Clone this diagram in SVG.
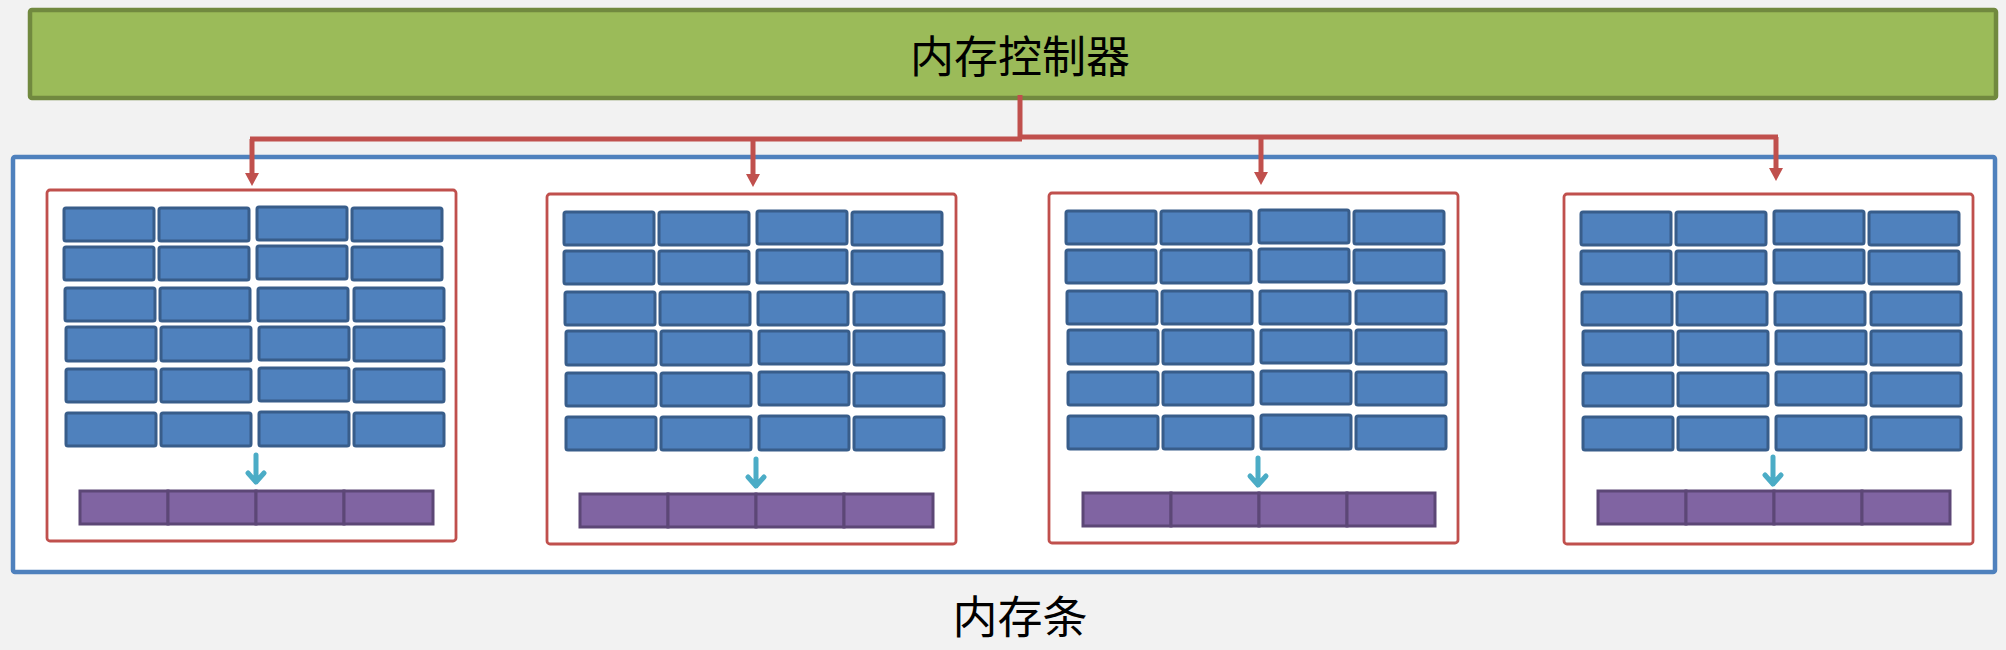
<svg xmlns="http://www.w3.org/2000/svg" width="2006" height="650" viewBox="0 0 2006 650">
<defs>
<style>
.bg{fill:#F2F2F2}
.ctrl{fill:#9BBB59;stroke:#71893F;stroke-width:4.5}
.outer{fill:#FFFFFF;stroke:#4F81BD;stroke-width:4.5}
.chip{fill:#FFFFFF;stroke:#C0504D;stroke-width:2.8}
.cell{fill:#4F81BD;stroke:#385D8A;stroke-width:3}
.bar{fill:#8064A2;stroke:#5C4776;stroke-width:3}
.wire{fill:none;stroke:#C0504D;stroke-width:5}
.cy{fill:none;stroke:#4BACC6;stroke-width:5;stroke-linecap:round;stroke-linejoin:round}
.lbl{font-family:"Noto Sans CJK SC","Noto Sans",sans-serif;fill:#000000;text-anchor:middle}
</style>
<marker id="ah" markerWidth="14" markerHeight="14" refX="0" refY="7" orient="auto" markerUnits="userSpaceOnUse">
<path d="M0,0 L13,7 L0,14 z" fill="#C0504D"/>
</marker>
</defs>
<rect class="bg" x="0" y="0" width="2006" height="650"/>

<g id="controller">
<rect class="ctrl" x="30" y="10" width="1966" height="88" rx="2"/>
<text class="lbl" x="1020" y="73" font-size="44">内存控制器</text>
</g>

<g id="memory-module">
<rect class="outer" x="13" y="157" width="1982" height="415" rx="2"/>
<text class="lbl" x="1020" y="634" font-size="45">内存条</text>
</g>

<g id="connectors">
<path class="wire" d="M1020,95 V139"/>
<path class="wire" d="M250,139 H1022"/>
<path class="wire" d="M1018,137 H1778"/>
<path class="wire" d="M252,139 V173" marker-end="url(#ah)"/>
<path class="wire" d="M753,139 V174" marker-end="url(#ah)"/>
<path class="wire" d="M1261,137 V172" marker-end="url(#ah)"/>
<path class="wire" d="M1776,137 V168" marker-end="url(#ah)"/>
</g>

<g id="chip1" transform="translate(47,190)">
<rect class="chip" x="0" y="0" width="409" height="351" rx="3"/>
<rect class="cell" x="17" y="18" width="90" height="33" rx="2"/><rect class="cell" x="112" y="18" width="90" height="33" rx="2"/><rect class="cell" x="210" y="17" width="90" height="33" rx="2"/><rect class="cell" x="305" y="18" width="90" height="33" rx="2"/>
<rect class="cell" x="17" y="57" width="90" height="33" rx="2"/><rect class="cell" x="112" y="57" width="90" height="33" rx="2"/><rect class="cell" x="210" y="56" width="90" height="33" rx="2"/><rect class="cell" x="305" y="57" width="90" height="33" rx="2"/>
<rect class="cell" x="18" y="98" width="90" height="33" rx="2"/><rect class="cell" x="113" y="98" width="90" height="33" rx="2"/><rect class="cell" x="211" y="98" width="90" height="33" rx="2"/><rect class="cell" x="307" y="98" width="90" height="33" rx="2"/>
<rect class="cell" x="19" y="137" width="90" height="34" rx="2"/><rect class="cell" x="114" y="137" width="90" height="34" rx="2"/><rect class="cell" x="212" y="137" width="90" height="33" rx="2"/><rect class="cell" x="307" y="137" width="90" height="34" rx="2"/>
<rect class="cell" x="19" y="179" width="90" height="33" rx="2"/><rect class="cell" x="114" y="179" width="90" height="33" rx="2"/><rect class="cell" x="212" y="178" width="90" height="33" rx="2"/><rect class="cell" x="307" y="179" width="90" height="33" rx="2"/>
<rect class="cell" x="19" y="223" width="90" height="33" rx="2"/><rect class="cell" x="114" y="223" width="90" height="33" rx="2"/><rect class="cell" x="212" y="222" width="90" height="34" rx="2"/><rect class="cell" x="307" y="223" width="90" height="33" rx="2"/>
<path class="cy" d="M209,265 V292 M201,283 L209,292 L217,283"/>
<rect class="bar" x="33" y="301" width="88" height="33"/><rect class="bar" x="121" y="301" width="88" height="33"/><rect class="bar" x="209" y="301" width="88" height="33"/><rect class="bar" x="297" y="301" width="89" height="33"/>
</g>

<g id="chip2" transform="translate(547,194)">
<rect class="chip" x="0" y="0" width="409" height="350" rx="3"/>
<rect class="cell" x="17" y="18" width="90" height="33" rx="2"/><rect class="cell" x="112" y="18" width="90" height="33" rx="2"/><rect class="cell" x="210" y="17" width="90" height="33" rx="2"/><rect class="cell" x="305" y="18" width="90" height="33" rx="2"/>
<rect class="cell" x="17" y="57" width="90" height="33" rx="2"/><rect class="cell" x="112" y="57" width="90" height="33" rx="2"/><rect class="cell" x="210" y="56" width="90" height="33" rx="2"/><rect class="cell" x="305" y="57" width="90" height="33" rx="2"/>
<rect class="cell" x="18" y="98" width="90" height="33" rx="2"/><rect class="cell" x="113" y="98" width="90" height="33" rx="2"/><rect class="cell" x="211" y="98" width="90" height="33" rx="2"/><rect class="cell" x="307" y="98" width="90" height="33" rx="2"/>
<rect class="cell" x="19" y="137" width="90" height="34" rx="2"/><rect class="cell" x="114" y="137" width="90" height="34" rx="2"/><rect class="cell" x="212" y="137" width="90" height="33" rx="2"/><rect class="cell" x="307" y="137" width="90" height="34" rx="2"/>
<rect class="cell" x="19" y="179" width="90" height="33" rx="2"/><rect class="cell" x="114" y="179" width="90" height="33" rx="2"/><rect class="cell" x="212" y="178" width="90" height="33" rx="2"/><rect class="cell" x="307" y="179" width="90" height="33" rx="2"/>
<rect class="cell" x="19" y="223" width="90" height="33" rx="2"/><rect class="cell" x="114" y="223" width="90" height="33" rx="2"/><rect class="cell" x="212" y="222" width="90" height="34" rx="2"/><rect class="cell" x="307" y="223" width="90" height="33" rx="2"/>
<path class="cy" d="M209,265 V292 M201,283 L209,292 L217,283"/>
<rect class="bar" x="33" y="300" width="88" height="33"/><rect class="bar" x="121" y="300" width="88" height="33"/><rect class="bar" x="209" y="300" width="88" height="33"/><rect class="bar" x="297" y="300" width="89" height="33"/>
</g>

<g id="chip3" transform="translate(1049,193)">
<rect class="chip" x="0" y="0" width="409" height="350" rx="3"/>
<rect class="cell" x="17" y="18" width="90" height="33" rx="2"/><rect class="cell" x="112" y="18" width="90" height="33" rx="2"/><rect class="cell" x="210" y="17" width="90" height="33" rx="2"/><rect class="cell" x="305" y="18" width="90" height="33" rx="2"/>
<rect class="cell" x="17" y="57" width="90" height="33" rx="2"/><rect class="cell" x="112" y="57" width="90" height="33" rx="2"/><rect class="cell" x="210" y="56" width="90" height="33" rx="2"/><rect class="cell" x="305" y="57" width="90" height="33" rx="2"/>
<rect class="cell" x="18" y="98" width="90" height="33" rx="2"/><rect class="cell" x="113" y="98" width="90" height="33" rx="2"/><rect class="cell" x="211" y="98" width="90" height="33" rx="2"/><rect class="cell" x="307" y="98" width="90" height="33" rx="2"/>
<rect class="cell" x="19" y="137" width="90" height="34" rx="2"/><rect class="cell" x="114" y="137" width="90" height="34" rx="2"/><rect class="cell" x="212" y="137" width="90" height="33" rx="2"/><rect class="cell" x="307" y="137" width="90" height="34" rx="2"/>
<rect class="cell" x="19" y="179" width="90" height="33" rx="2"/><rect class="cell" x="114" y="179" width="90" height="33" rx="2"/><rect class="cell" x="212" y="178" width="90" height="33" rx="2"/><rect class="cell" x="307" y="179" width="90" height="33" rx="2"/>
<rect class="cell" x="19" y="223" width="90" height="33" rx="2"/><rect class="cell" x="114" y="223" width="90" height="33" rx="2"/><rect class="cell" x="212" y="222" width="90" height="34" rx="2"/><rect class="cell" x="307" y="223" width="90" height="33" rx="2"/>
<path class="cy" d="M209,265 V292 M201,283 L209,292 L217,283"/>
<rect class="bar" x="34" y="300" width="88" height="33"/><rect class="bar" x="122" y="300" width="88" height="33"/><rect class="bar" x="210" y="300" width="88" height="33"/><rect class="bar" x="298" y="300" width="88" height="33"/>
</g>

<g id="chip4" transform="translate(1564,194)">
<rect class="chip" x="0" y="0" width="409" height="350" rx="3"/>
<rect class="cell" x="17" y="18" width="90" height="33" rx="2"/><rect class="cell" x="112" y="18" width="90" height="33" rx="2"/><rect class="cell" x="210" y="17" width="90" height="33" rx="2"/><rect class="cell" x="305" y="18" width="90" height="33" rx="2"/>
<rect class="cell" x="17" y="57" width="90" height="33" rx="2"/><rect class="cell" x="112" y="57" width="90" height="33" rx="2"/><rect class="cell" x="210" y="56" width="90" height="33" rx="2"/><rect class="cell" x="305" y="57" width="90" height="33" rx="2"/>
<rect class="cell" x="18" y="98" width="90" height="33" rx="2"/><rect class="cell" x="113" y="98" width="90" height="33" rx="2"/><rect class="cell" x="211" y="98" width="90" height="33" rx="2"/><rect class="cell" x="307" y="98" width="90" height="33" rx="2"/>
<rect class="cell" x="19" y="137" width="90" height="34" rx="2"/><rect class="cell" x="114" y="137" width="90" height="34" rx="2"/><rect class="cell" x="212" y="137" width="90" height="33" rx="2"/><rect class="cell" x="307" y="137" width="90" height="34" rx="2"/>
<rect class="cell" x="19" y="179" width="90" height="33" rx="2"/><rect class="cell" x="114" y="179" width="90" height="33" rx="2"/><rect class="cell" x="212" y="178" width="90" height="33" rx="2"/><rect class="cell" x="307" y="179" width="90" height="33" rx="2"/>
<rect class="cell" x="19" y="223" width="90" height="33" rx="2"/><rect class="cell" x="114" y="223" width="90" height="33" rx="2"/><rect class="cell" x="212" y="222" width="90" height="34" rx="2"/><rect class="cell" x="307" y="223" width="90" height="33" rx="2"/>
<path class="cy" d="M209,263 V290 M201,281 L209,290 L217,281"/>
<rect class="bar" x="34" y="297" width="88" height="33"/><rect class="bar" x="122" y="297" width="88" height="33"/><rect class="bar" x="210" y="297" width="88" height="33"/><rect class="bar" x="298" y="297" width="88" height="33"/>
</g>
</svg>
